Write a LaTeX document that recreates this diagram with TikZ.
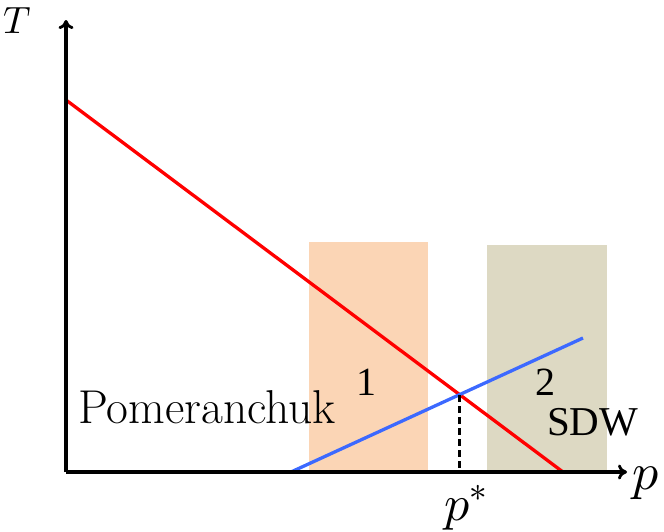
\documentclass[tikz,border=0pt]{standalone}
\usepackage{fontspec}
\usepackage{unicode-math}
\setmathfont{Latin Modern Math}
\newfontfamily\tms{Liberation Serif}
\usetikzlibrary{arrows.meta}
\definecolor{orfill}{RGB}{251,213,181}
\definecolor{tanfill}{RGB}{221,217,195}
\definecolor{bluecol}{RGB}{60,105,255}
\tikzset{
  axis/.style={line width=3.2pt, -{To[length=9pt,width=15pt,line width=2.8pt]}},
  redl/.style={line width=3.3pt, red},
  bluel/.style={line width=3.3pt, bluecol},
  dashl/.style={line width=2.6pt, dash pattern=on 7pt off 4pt},
  lbl/.style={inner sep=0pt, outer sep=0pt}
}
\begin{document}
\begin{tikzpicture}[x=1pt,y=-1pt]
\useasboundingbox (0,0) rectangle (664,531);
\fill[orfill] (309,242) rectangle (428,472);
\fill[tanfill] (487,245) rectangle (607,472);
\coordinate (O) at (66,472);
\coordinate (Ttip) at (66,20);
\coordinate (ptip) at (627,472);
\coordinate (r1) at (66,100);
\coordinate (r2) at (563,472);
\coordinate (b1) at (291,472);
\coordinate (b2) at (583,338);
\coordinate (X) at (459.5,395);
\coordinate (Xb) at (459.5,472);
\draw[redl] (r1) -- (r2);
\draw[bluel] (b1) -- (b2);
\draw[dashl] (X) -- (Xb);
\draw[axis] (O) -- (Ttip);
\draw[axis] (O) -- (ptip);
\node[lbl, anchor=base west] (Tl) at (4,33) {\fontsize{38}{40}\selectfont $T$};
\node[lbl, anchor=base west] (pl) at (632,489) {\fontsize{52}{54}\selectfont $p$};
\node[lbl, anchor=base west] (psl) at (444,520) {\fontsize{50}{52}\selectfont $p^*$};
\node[lbl, anchor=base west] (pom) at (78,423) {\fontsize{47.5}{50}\selectfont Pomeranchuk};
\node[lbl, anchor=base] (one) at (366,395) {\tms\fontsize{40}{42}\selectfont 1};
\node[lbl, anchor=base] (two) at (545,395) {\tms\fontsize{40}{42}\selectfont 2};
\node[lbl, anchor=base west] (sdw) at (547,435) {\tms\fontsize{41}{43}\selectfont SDW};
\end{tikzpicture}
\end{document}
